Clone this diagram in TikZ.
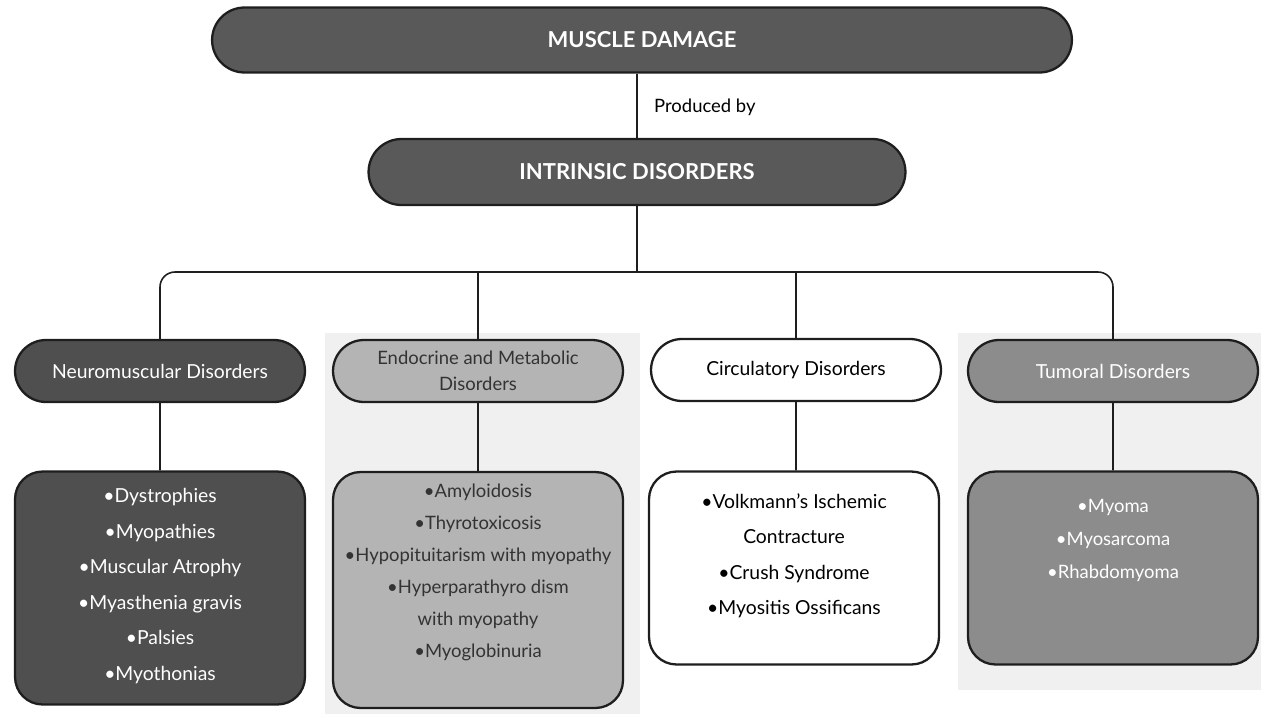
\documentclass[tikz,border=0pt]{standalone}
\usepackage{fontspec}
\setmainfont{Lato}
\usetikzlibrary{shapes.misc}

\definecolor{topfill}{HTML}{595959}
\definecolor{nmfill}{HTML}{4F4F4F}
\definecolor{endofill}{HTML}{B4B4B4}
\definecolor{tumfill}{HTML}{8C8C8C}
\definecolor{outline}{HTML}{1E1E1E}

\newcommand*{\busy}{272}

\begin{document}
\begin{tikzpicture}
[
	x=0.02cm, y=-0.02cm,
	pill/.style={rounded rectangle,draw=outline,line width=1.3pt,minimum height=1.24cm,minimum width=5.8cm,inner sep=0pt,align=center,font=\fontsize{11}{15}\selectfont},
	headpill/.style={pill,text=white,font=\fontsize{12.5}{15}\selectfont\bfseries},
	listbox/.style={rectangle,rounded corners=0.55cm,draw=outline,line width=1.3pt,minimum width=5.8cm,inner sep=0pt},
	itemtext/.style={align=center,inner sep=0pt,font=\fontsize{11}{20.2}\selectfont},
	conn/.style={outline,line width=0.9pt},
]
	\useasboundingbox (0,0) rectangle (1261,714);

	% faint paper tint
	\fill[black!6] (325,333) rectangle (640,714);
	\fill[black!6] (958,333) rectangle (1261,690);

	% top of the tree
	\node[headpill,fill=topfill,minimum width=17.2cm,minimum height=1.3cm] (muscle) at (642,40) {MUSCLE DAMAGE};
	\node[headpill,fill=topfill,minimum width=10.74cm,minimum height=1.32cm] (intrinsic) at (637,172) {INTRINSIC DISORDERS};
	\draw[conn] (intrinsic.north) -- (intrinsic.north |- muscle.south);
	\node[anchor=west,font=\fontsize{10.5}{12}\selectfont] (producedby) at (648,107) {Produced by};

	% disorder groups
	\node[pill,fill=nmfill,text=white] (nmpill) at (160,371) {Neuromuscular Disorders};
	\node[pill,fill=endofill,text=black!80,font=\fontsize{10.5}{15}\selectfont] (endopill) at (478,371) {Endocrine and Metabolic\\Disorders};
	\node[pill,fill=white] (circpill) at (796,370) {Circulatory Disorders};
	\node[pill,fill=tumfill,text=white] (tumpill) at (1113,371) {Tumoral Disorders};

	% bus
	\coordinate (bus) at (637,\busy);
	\draw[conn] (intrinsic.south) -- (bus);
	\draw[conn,rounded corners=0.3cm] (nmpill.north) |- (bus) -| (tumpill.north);
	\draw[conn] (endopill.north) -- (endopill.north |- bus);
	\draw[conn] (circpill.north) -- (circpill.north |- bus);

	% lists
	\node[listbox,fill=nmfill,minimum height=4.66cm] (nmbox) at (160,588) {};
	\node[listbox,fill=endofill,minimum height=4.72cm] (endobox) at (478,590) {};
	\node[listbox,fill=white,minimum height=3.86cm] (circbox) at (794,568) {};
	\node[listbox,fill=tumfill,minimum height=3.86cm] (tumbox) at (1113,568) {};
	\draw[conn] (nmpill) -- (nmbox);
	\draw[conn] (endopill) -- (endobox);
	\draw[conn] (circpill) -- (circbox.north -| circpill);
	\draw[conn] (tumpill) -- (tumbox);

	\node[itemtext,text=white] (nmlist) at (160,586) {•Dystrophies\\•Myopathies\\•Muscular Atrophy\\•Myasthenia gravis\\•Palsies\\•Myothonias};
	\node[itemtext,text=black!80,font=\fontsize{10.5}{18.2}\selectfont] (endolist) at (478,572) {•Amyloidosis\\•Thyrotoxicosis\\•Hypopituitarism with myopathy\\•Hyperparathyro dism\\with myopathy\\•Myoglobinuria};
	\node[itemtext] (circlist) at (794,556) {•Volkmann’s Ischemic\\Contracture\\•Crush Syndrome\\•Myositis Ossificans};
	\node[itemtext,text=white,font=\fontsize{10.5}{18.8}\selectfont] (tumlist) at (1113,540) {•Myoma\\•Myosarcoma\\•Rhabdomyoma};

\end{tikzpicture}
\end{document}
